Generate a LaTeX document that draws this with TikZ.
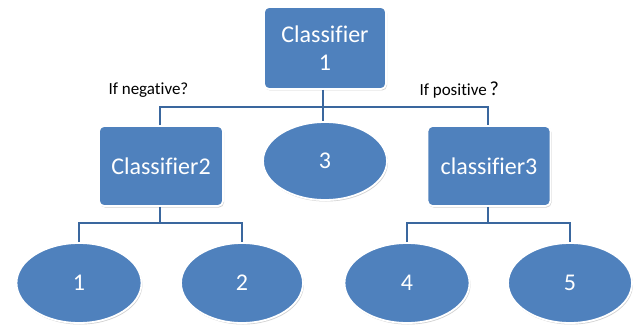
\documentclass[tikz,border=0pt]{standalone}
\usepackage{fontspec}
\setmainfont[Ligatures=NoCommon]{Carlito}
\usetikzlibrary{shapes.geometric,shadows}
\definecolor{boxblue}{HTML}{4F81BD}
\definecolor{lineblue}{HTML}{3A679E}
\tikzset{
  x=1pt, y=-1pt,
  boxnode/.style={draw=white, line width=1.8pt, fill=boxblue, rounded corners=5pt,
    text=white, font=\fontsize{24}{28}\selectfont, align=center,
    drop shadow={shadow xshift=1pt, shadow yshift=-1.5pt, fill=black!35, opacity=0.5}},
  leafnode/.style={ellipse, draw=white, line width=1.8pt, fill=boxblue,
    text=white, font=\fontsize{24}{28}\selectfont, inner sep=0pt,
    drop shadow={shadow xshift=1pt, shadow yshift=-1.5pt, fill=black!35, opacity=0.5}},
  conn/.style={draw=lineblue, line width=1.5pt},
  lbl/.style={font=\fontsize{17}{20}\selectfont, text=black}
}
\begin{document}
\begin{tikzpicture}
\useasboundingbox (0,0) rectangle (636,331);
\node[boxnode, minimum width=122pt, minimum height=82pt] (root) at (325,48) {Classifier\\1};
\node[boxnode, minimum width=124pt, minimum height=80pt] (c2) at (161,166) {Classifier2};
\node[boxnode, minimum width=123pt, minimum height=80pt] (c3) at (489,166) {classifier3};
\node[leafnode, minimum width=124pt, minimum height=78pt] (l3) at (325,161) {3};
\node[leafnode, minimum width=125pt, minimum height=80pt] (l1) at (79,283) {1};
\node[leafnode, minimum width=122pt, minimum height=80pt] (l2) at (242,283) {2};
\node[leafnode, minimum width=125pt, minimum height=80pt] (l4) at (407,283) {4};
\node[leafnode, minimum width=124pt, minimum height=80pt] (l5) at (570,283) {5};
\node[lbl, anchor=west] (neg) at (105,90) {If negative?};
\node[lbl, anchor=west] (pos) at (416,90) {If positive\,\fontsize{20}{20}\selectfont ?};
\coordinate (j0) at (323,107);
\coordinate (j2) at (160,223);
\coordinate (j3) at (488,223);
% root connectors
\draw[conn] (root.south -| j0) -- (j0);
\draw[conn] (c2.north -| 160,0) |- (j0) -| (c3.north -| 488,0);
\draw[conn] (j0) -- (l3.north -| j0);
% c2 connectors
\draw[conn] (c2.south -| j2) -- (j2);
\draw[conn] (l1.north) |- (j2) -| (l2.north);
% c3 connectors
\draw[conn] (c3.south -| j3) -- (j3);
\draw[conn] (l4.north) |- (j3) -| (l5.north);
\end{tikzpicture}
\end{document}
